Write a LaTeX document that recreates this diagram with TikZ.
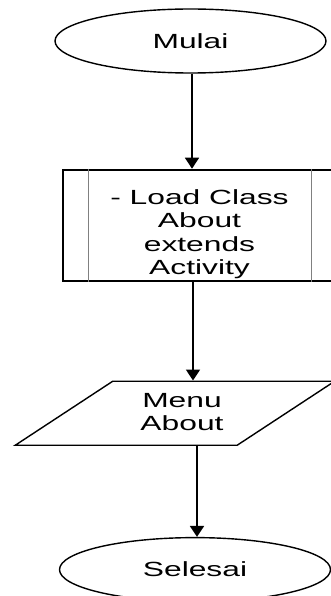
\documentclass[tikz,border=0pt]{standalone}
\usepackage{fontspec}
\setmainfont{Liberation Sans}[FakeStretch=1.55]
\usetikzlibrary{shapes.geometric, arrows.meta, positioning}
\tikzstyle{terminal} = [draw, line width=1.4pt, shape=ellipse, inner sep=0pt,
    minimum width=271pt, minimum height=64pt, font=\fontsize{20.5}{23.5}\selectfont]
\tikzstyle{process} = [draw, line width=1.8pt, fill=white, rectangle, inner sep=0pt,
    minimum width=273pt, minimum height=111pt]
\tikzstyle{io} = [draw, line width=1.4pt, trapezium, trapezium left angle=39.4,
    trapezium right angle=140.6, trapezium stretches=true, inner sep=2pt,
    minimum width=320pt, minimum height=64pt]
\tikzstyle{boxtext} = [align=center, inner sep=0pt,
    font=\fontsize{20.5}{23.5}\selectfont]
\newcommand{\sideline}[1]{\draw [gray, line width=0.6pt] #1;}

\begin{document}
\begin{tikzpicture}[auto, node distance=95pt, >={Triangle[width=14pt,length=11pt]}]
    \useasboundingbox (0,0) rectangle (331pt,-596pt);
    \node [terminal] (mulai) at (190.5pt,-41pt) {Mulai};
    \node [process, below=95pt of mulai, xshift=9pt] (load) {};
    \node [boxtext] (loadtext) at ([yshift=-9pt]load.center) {- Load Class\\About\\extends\\Activity};
    \sideline{([xshift=26pt]load.north west) -- ([xshift=26pt]load.south west)}
    \sideline{([xshift=-26pt]load.north east) -- ([xshift=-26pt]load.south east)}
    \node [io, below=99pt of load, xshift=-24.5pt] (menu) {\phantom{M}};
    \node [boxtext] (menutext) at ([xshift=7pt,yshift=1pt]menu.center) {Menu\\About};
    \node [terminal, below=91pt of menu, xshift=20pt] (selesai) {Selesai};
    \draw [->, line width=1.8pt] ([xshift=1.5pt]mulai.south) -- ([xshift=1.5pt]mulai.south |- load.north);
    \draw [->, line width=1.8pt] ([xshift=-6.5pt]load.south) -- ([xshift=-6.5pt]load.south |- menu.north);
    \draw [->, line width=1.8pt] ([xshift=22pt]menu.south) -- ([xshift=22pt]menu.south |- selesai.north);
\end{tikzpicture}
\end{document}
